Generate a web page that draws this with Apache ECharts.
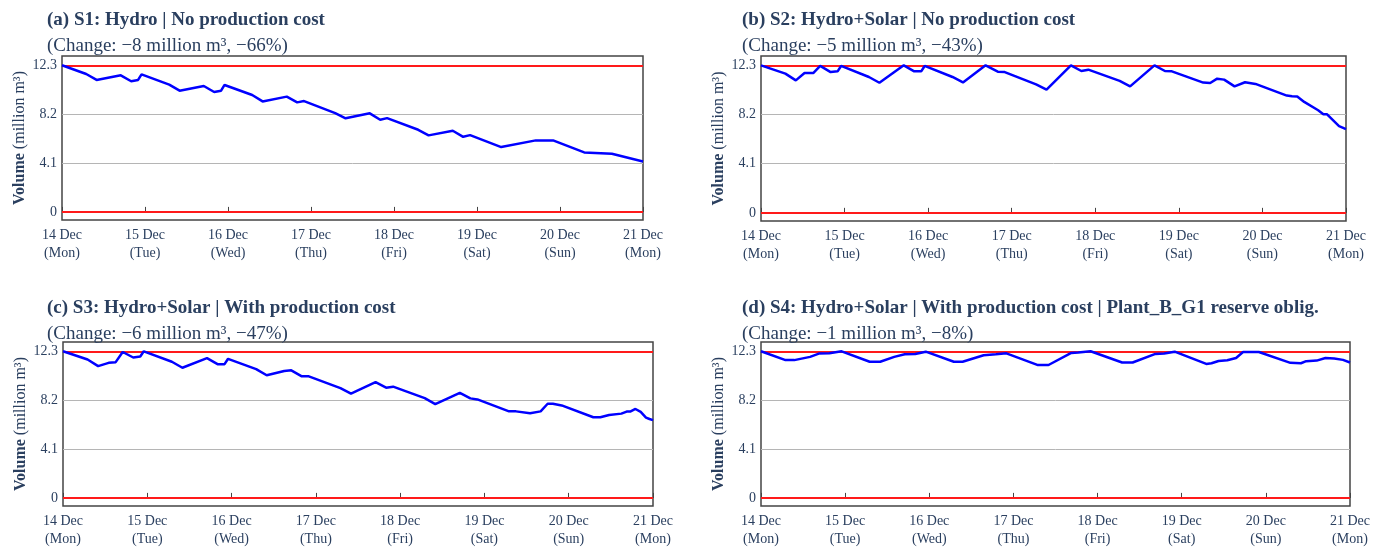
<!DOCTYPE html>
<html>
<head>
<meta charset="utf-8">
<script src="https://cdn.jsdelivr.net/npm/echarts@6/dist/echarts.min.js"></script>
<style>
  html, body { margin: 0; padding: 0; background: #ffffff; }
  #chart { width: 1382px; height: 548px; }
</style>
</head>
<body>
<div id="chart"></div>
<script>
// Day tick labels along the week (x axis is in hours from 14 Dec 00:00)
const dayLabels = ['14 Dec\n(Mon)', '15 Dec\n(Tue)', '16 Dec\n(Wed)', '17 Dec\n(Thu)',
                   '18 Dec\n(Fri)', '19 Dec\n(Sat)', '20 Dec\n(Sun)', '21 Dec\n(Mon)'];
const volumeTicks = [0, 4.1, 8.2, 12.3];
const reservoirMin = 0;
const reservoirMax = 12.3;

const panelTitles = [
  '(a) S1: Hydro | No production cost',
  '(b) S2: Hydro+Solar | No production cost',
  '(c) S3: Hydro+Solar | With production cost',
  '(d) S4: Hydro+Solar | With production cost | Plant_B_G1 reserve oblig.'
];
const panelChanges = [
  '(Change: \u22128 million m\u00B3, \u221266%)',
  '(Change: \u22125 million m\u00B3, \u221243%)',
  '(Change: \u22126 million m\u00B3, \u221247%)',
  '(Change: \u22121 million m\u00B3, \u22128%)'
];

// S1: Hydro, no production cost
const s1Hours  = [0, 7, 10, 17, 20, 22, 23, 31, 34, 41, 44, 46, 47, 55, 58, 65, 68, 70,
                  79, 82, 89, 92, 94, 103, 106, 113, 116, 118, 127, 137, 142, 151, 159, 168];
const s1Volume = [12.3, 11.57, 11.07, 11.46, 10.96, 11.07, 11.54, 10.68, 10.17, 10.56, 10.06, 10.17, 10.65,
                  9.81, 9.27, 9.67, 9.19, 9.30, 8.29, 7.85, 8.27, 7.73, 7.87, 6.89, 6.42, 6.81, 6.30, 6.44,
                  5.44, 6.00, 6.00, 4.99, 4.88, 4.23];

// S2: Hydro+Solar, no production cost
const s2Hours  = [0, 7, 10, 12.5, 15, 17, 20, 22, 23, 31, 34, 41, 44, 46, 47, 55, 58, 64.5, 68, 70,
                  79, 82, 89, 92, 94, 103, 106, 113, 116, 118, 127, 129, 131, 133, 136, 139, 142,
                  151, 152.5, 154, 156, 160, 161.5, 162.5, 163, 166, 168];
const s2Volume = [12.3, 11.61, 11.05, 11.66, 11.66, 12.25, 11.74, 11.80, 12.25, 11.33, 10.85, 12.3, 11.8,
                  11.8, 12.25, 11.33, 10.88, 12.3, 11.77, 11.74, 10.72, 10.27, 12.3, 11.83, 11.94, 11.0,
                  10.55, 12.3, 11.83, 11.80, 10.86, 10.83, 11.19, 11.11, 10.55, 10.89, 10.75, 9.78, 9.72,
                  9.70, 9.25, 8.56, 8.23, 8.23, 8.37, 7.23, 6.98];

// S3: Hydro+Solar, with production cost
const s3Hours  = [0, 7, 10, 13, 15, 17, 20, 22, 23, 31, 34, 41, 44, 46, 47, 55, 58, 63, 65, 68, 70,
                  79, 82, 89, 92, 94, 103, 106, 113, 116, 118, 127, 129, 133, 136, 138, 139.5, 142,
                  151, 153, 155.5, 159, 160.5, 161.5, 163, 164.5, 166, 167, 168];
const s3Volume = [12.3, 11.61, 11.06, 11.33, 11.39, 12.24, 11.78, 11.86, 12.3, 11.42, 10.92, 11.72, 11.22,
                  11.22, 11.67, 10.81, 10.29, 10.65, 10.70, 10.20, 10.20, 9.21, 8.74, 9.71, 9.25, 9.33,
                  8.37, 7.87, 8.81, 8.35, 8.26, 7.26, 7.26, 7.10, 7.26, 7.90, 7.90, 7.76, 6.77, 6.77,
                  6.96, 7.07, 7.24, 7.24, 7.46, 7.21, 6.74, 6.62, 6.52];

// S4: Hydro+Solar, with production cost and reserve obligation
const s4Hours  = [0, 7, 9.5, 14, 16.5, 19.5, 23, 31, 34, 38, 41, 44, 47, 55, 57.5, 63.5, 67, 70,
                  79, 82, 88.5, 90.5, 94, 103, 106, 112.5, 115, 118, 127, 128.5, 130.5, 133, 135.5,
                  137.5, 142, 151, 154, 155.5, 158.5, 161, 163.5, 166, 168];
const s4Volume = [12.3, 11.56, 11.56, 11.83, 12.11, 12.13, 12.3, 11.42, 11.42, 11.83, 12.05, 12.08, 12.27,
                  11.42, 11.42, 11.97, 12.05, 12.13, 11.14, 11.15, 12.16, 12.19, 12.3, 11.36, 11.36,
                  12.08, 12.11, 12.27, 11.24, 11.30, 11.49, 11.55, 11.74, 12.24, 12.24, 11.33, 11.30,
                  11.47, 11.52, 11.74, 11.69, 11.58, 11.36];

const seriesHours = [s1Hours, s2Hours, s3Hours, s4Hours];
const seriesVolume = [s1Volume, s2Volume, s3Volume, s4Volume];

const FONT = '"Liberation Serif", "Times New Roman", serif';
const TEXT = '#2a3f5f';

// Plot rectangles of the four panels
const panels = [
  { left: 62,  top: 56,  width: 581, height: 164, titleX: 47,  titleY: 11 },
  { left: 761, top: 56,  width: 585, height: 165, titleX: 742, titleY: 11 },
  { left: 63,  top: 342, width: 590, height: 167, titleX: 47,  titleY: 299 },
  { left: 761, top: 342, width: 589, height: 167, titleX: 742, titleY: 299 }
];

const option = {
  backgroundColor: '#ffffff',
  animation: false,
  title: [],
  grid: [],
  xAxis: [],
  yAxis: [],
  series: []
};

panels.forEach((p, i) => {
  option.title.push({
    text: panelTitles[i],
    left: p.titleX, top: p.titleY, padding: 0,
    textStyle: { fontFamily: FONT, fontSize: 19, fontWeight: 'bold', color: TEXT }
  });
  option.title.push({
    text: panelChanges[i],
    left: p.titleX, top: p.titleY + 25.5, padding: 0,
    textStyle: { fontFamily: FONT, fontSize: 19, fontWeight: 'normal', color: TEXT }
  });
  option.grid.push({
    left: p.left, top: p.top, width: p.width, height: p.height,
    show: true, borderColor: '#444444', borderWidth: 1.5, backgroundColor: '#ffffff'
  });
  option.xAxis.push({
    type: 'value', gridIndex: i, min: 0, max: 168, interval: 24,
    axisLine: { show: false },
    axisTick: { show: true, inside: true, length: 5, lineStyle: { color: '#444444', width: 1 } },
    splitLine: { show: false },
    axisLabel: {
      fontFamily: FONT, fontSize: 14, color: TEXT, lineHeight: 18, margin: 6,
      formatter: v => dayLabels[Math.round(v / 24)]
    }
  });
  option.yAxis.push({
    type: 'value', gridIndex: i, min: -0.68, max: 13.08,
    name: '{b|Volume} (million m\u00B3)',
    nameLocation: 'middle', nameGap: 34, nameRotate: 90,
    nameTextStyle: {
      fontFamily: FONT, fontSize: 16, color: TEXT,
      rich: { b: { fontFamily: FONT, fontSize: 16, fontWeight: 'bold', color: TEXT } }
    },
    axisLine: { show: false },
    axisTick: { show: false },
    splitLine: { show: false },
    axisLabel: {
      customValues: volumeTicks,
      fontFamily: FONT, fontSize: 14, color: TEXT, margin: 5,
      formatter: v => (v === 0 ? '0' : v.toFixed(1))
    }
  });
  // reference lines: gray grid at inner ticks, red at reservoir bounds
  option.series.push({
    type: 'line', xAxisIndex: i, yAxisIndex: i, data: [], z: 1, silent: true,
    markLine: {
      silent: true, symbol: 'none', label: { show: false }, z: 1, animation: false,
      data: [
        { yAxis: 4.1, lineStyle: { color: '#b5b5b5', width: 1, type: 'solid' } },
        { yAxis: 8.2, lineStyle: { color: '#b5b5b5', width: 1, type: 'solid' } },
        { yAxis: reservoirMin, lineStyle: { color: '#ff1a1a', width: 2, type: 'solid' } },
        { yAxis: reservoirMax, lineStyle: { color: '#ff1a1a', width: 2, type: 'solid' } }
      ]
    }
  });
  option.series.push({
    type: 'line', xAxisIndex: i, yAxisIndex: i, z: 5,
    data: seriesHours[i].map((h, k) => [h, seriesVolume[i][k]]),
    showSymbol: false, symbol: 'none',
    lineStyle: { color: '#0000ff', width: 2.5 },
    itemStyle: { color: '#0000ff' }
  });
});

const chart = echarts.init(document.getElementById('chart'), null, { renderer: 'canvas' });
chart.setOption(option);
</script>
</body>
</html>
